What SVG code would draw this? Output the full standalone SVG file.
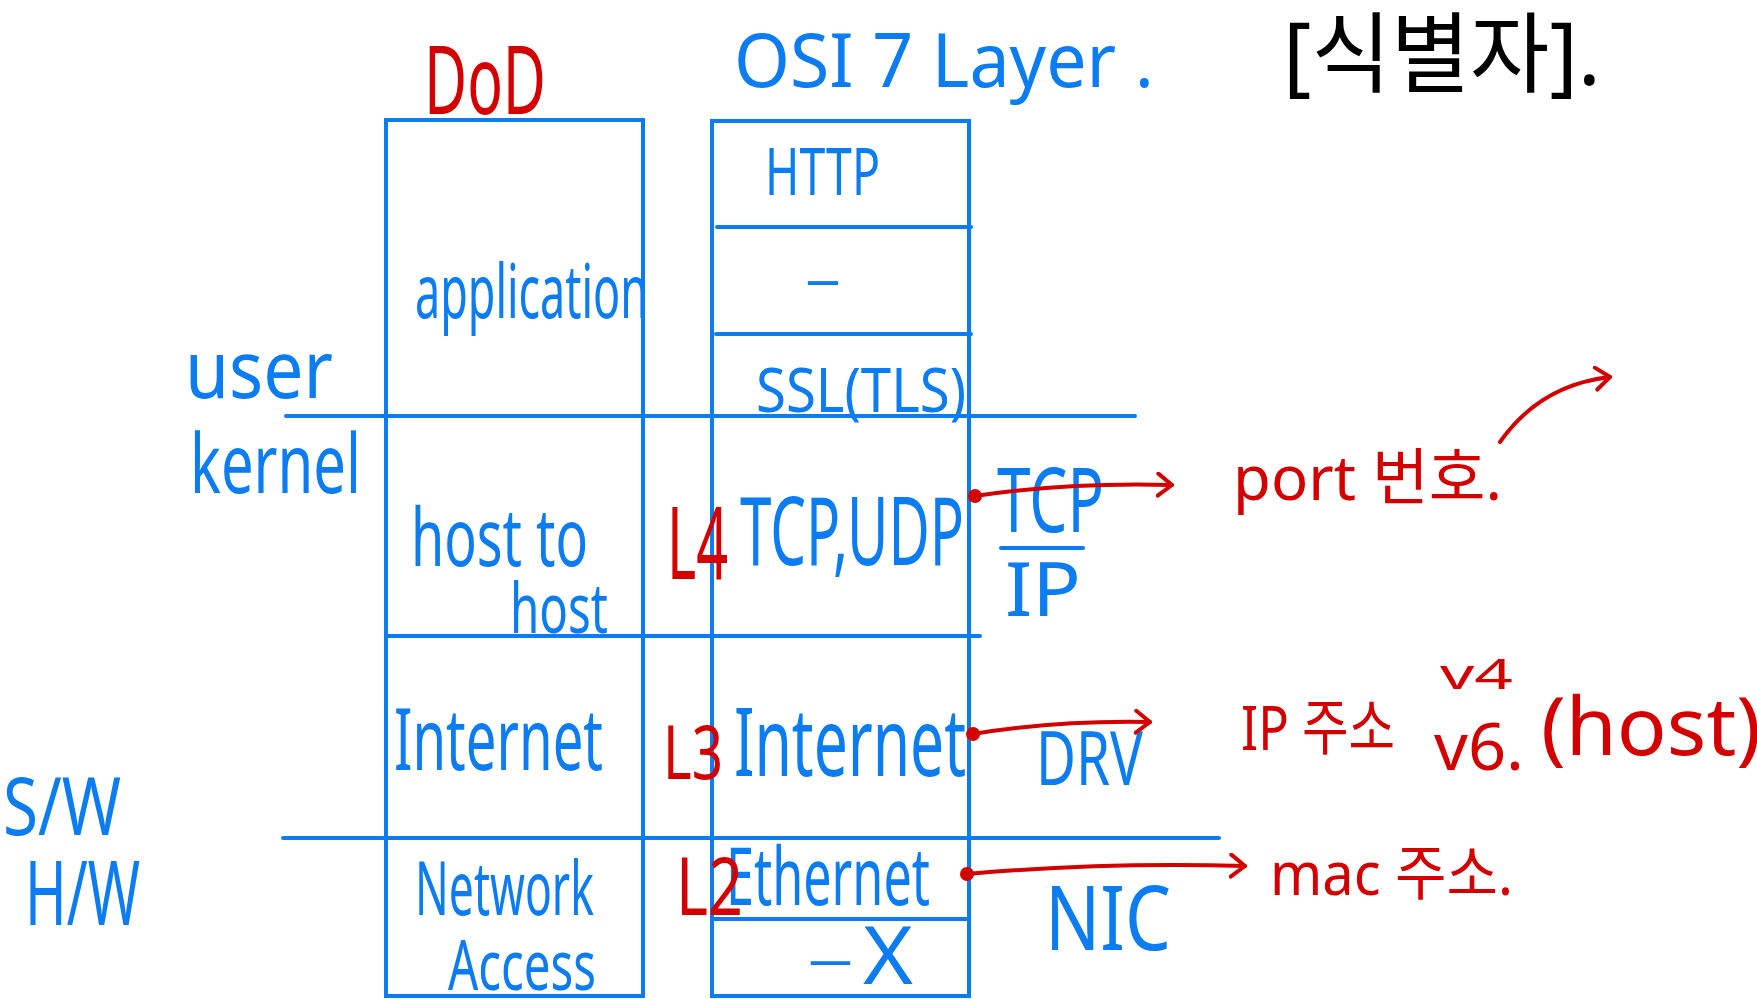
<svg xmlns="http://www.w3.org/2000/svg" width="1757" height="999" viewBox="0 0 1757 999">
<style>
.bl{fill:#0b7cf2;font-family:"Noto Sans","Noto Sans CJK KR",sans-serif;}
.rd{fill:#d40000;font-family:"Noto Sans","Noto Sans CJK KR",sans-serif;}
.bk{fill:#000;font-family:"Noto Sans","Noto Sans CJK KR",sans-serif;}
.ln{stroke:#0b7cf2;stroke-width:4;fill:none;stroke-linecap:round;}
.ar{stroke:#d40000;stroke-width:4;fill:none;stroke-linecap:round;}
</style>
<defs>
<marker id="chev" markerUnits="userSpaceOnUse" markerWidth="30" markerHeight="30" refX="16" refY="13" orient="auto">
<path d="M2,2 L16,13 L2,24" fill="none" stroke="#d40000" stroke-width="4" stroke-linecap="round" stroke-linejoin="round"/>
</marker>
</defs>
<rect width="1757" height="999" fill="#fff"/>

<g id="titles">
<text class="rd" x="424" y="114" font-size="95" textLength="122" lengthAdjust="spacingAndGlyphs">DoD</text>
<text class="bl" x="734" y="87" font-size="75" textLength="420" lengthAdjust="spacingAndGlyphs">OSI 7 Layer .</text>
<text class="bk" x="1283" y="85" font-size="88" textLength="318" lengthAdjust="spacingAndGlyphs">[식별자].</text>
</g>

<g id="dod-stack">
<rect class="ln" x="386" y="120" width="257" height="876"/>
<text class="bl" x="415" y="318" font-size="75" textLength="233" lengthAdjust="spacingAndGlyphs">application</text>
<text class="bl" x="411" y="566" font-size="80" textLength="177" lengthAdjust="spacingAndGlyphs">host to</text>
<text class="bl" x="510" y="633" font-size="70" textLength="98" lengthAdjust="spacingAndGlyphs">host</text>
<text class="bl" x="394" y="770" font-size="85" textLength="209" lengthAdjust="spacingAndGlyphs">Internet</text>
<text class="bl" x="415" y="915" font-size="75" textLength="179" lengthAdjust="spacingAndGlyphs">Network</text>
<text class="bl" x="448" y="990" font-size="70" textLength="148" lengthAdjust="spacingAndGlyphs">Access</text>
</g>

<g id="osi-stack">
<rect class="ln" x="712" y="121" width="257" height="875"/>
<line class="ln" x1="717" y1="227" x2="971" y2="227"/>
<line class="ln" x1="716" y1="334" x2="971" y2="334"/>
<line class="ln" x1="712" y1="919" x2="969" y2="919"/>
<text class="bl" x="765" y="195" font-size="66" textLength="115" lengthAdjust="spacingAndGlyphs">HTTP</text>
<text class="bl" x="805" y="296" font-size="50" textLength="36" lengthAdjust="spacingAndGlyphs">–</text>
<text class="bl" x="756" y="412" font-size="62" textLength="210" lengthAdjust="spacingAndGlyphs">SSL(TLS)</text>
<text class="bl" x="740" y="565" font-size="95" textLength="224" lengthAdjust="spacingAndGlyphs">TCP,UDP</text>
<text class="bl" x="734" y="776" font-size="95" textLength="232" lengthAdjust="spacingAndGlyphs">Internet</text>
<text class="bl" x="726" y="905" font-size="80" textLength="204" lengthAdjust="spacingAndGlyphs">Ethernet</text>
<text class="bl" x="807" y="976" font-size="50" textLength="47" lengthAdjust="spacingAndGlyphs">–</text>
<text class="bl" x="863" y="984" font-size="80" textLength="50" lengthAdjust="spacingAndGlyphs">X</text>
</g>

<g id="layer-labels">
<text class="rd" x="667" y="579" font-size="100" textLength="61" lengthAdjust="spacingAndGlyphs">L4</text>
<text class="rd" x="663" y="779" font-size="75" textLength="60" lengthAdjust="spacingAndGlyphs">L3</text>
<text class="rd" x="676" y="915" font-size="80" textLength="67" lengthAdjust="spacingAndGlyphs">L2</text>
</g>

<g id="side-labels">
<line class="ln" x1="286" y1="416" x2="1135" y2="416"/>
<line class="ln" x1="386" y1="636" x2="980" y2="636"/>
<line class="ln" x1="283" y1="838" x2="1219" y2="838"/>
<text class="bl" x="185" y="398" font-size="80" textLength="148" lengthAdjust="spacingAndGlyphs">user</text>
<text class="bl" x="190" y="493" font-size="82" textLength="171" lengthAdjust="spacingAndGlyphs">kernel</text>
<text class="bl" x="3" y="835" font-size="80" textLength="118" lengthAdjust="spacingAndGlyphs">S/W</text>
<text class="bl" x="25" y="925" font-size="90" textLength="115" lengthAdjust="spacingAndGlyphs">H/W</text>
</g>

<g id="right-labels">
<text class="bl" x="997" y="532" font-size="90" textLength="107" lengthAdjust="spacingAndGlyphs">TCP</text>
<line class="ln" x1="1001" y1="548" x2="1083" y2="548"/>
<text class="bl" x="1005" y="616" font-size="75" textLength="76" lengthAdjust="spacingAndGlyphs">IP</text>
<text class="bl" x="1036" y="785" font-size="75" textLength="107" lengthAdjust="spacingAndGlyphs">DRV</text>
<text class="bl" x="1045" y="950" font-size="90" textLength="126" lengthAdjust="spacingAndGlyphs">NIC</text>
</g>

<g id="identifiers">
<text class="rd" x="1233" y="500" font-size="62" textLength="269" lengthAdjust="spacingAndGlyphs">port 번호.</text>
<text class="rd" x="1241" y="750" font-size="62" textLength="154" lengthAdjust="spacingAndGlyphs">IP 주소</text>
<text class="rd" x="1440" y="689" font-size="42" textLength="73" lengthAdjust="spacingAndGlyphs">v4</text>
<text class="rd" x="1434" y="770" font-size="65" textLength="90" lengthAdjust="spacingAndGlyphs">v6.</text>
<text class="rd" x="1541" y="755" font-size="80" textLength="220" lengthAdjust="spacingAndGlyphs">(host)</text>
<text class="rd" x="1270" y="895" font-size="60" textLength="243" lengthAdjust="spacingAndGlyphs">mac 주소.</text>
</g>

<g id="connectors">
<circle cx="975" cy="496" r="7" fill="#d40000"/>
<path class="ar" d="M975,496 Q1070,482 1172,485" marker-end="url(#chev)"/>
<circle cx="973" cy="734" r="7" fill="#d40000"/>
<path class="ar" d="M973,734 Q1060,720 1150,722" marker-end="url(#chev)"/>
<circle cx="967" cy="874" r="7" fill="#d40000"/>
<path class="ar" d="M967,874 Q1100,862 1245,866" marker-end="url(#chev)"/>
<path class="ar" d="M1500,442 Q1540,385 1610,377" marker-end="url(#chev)"/>
</g>
</svg>
